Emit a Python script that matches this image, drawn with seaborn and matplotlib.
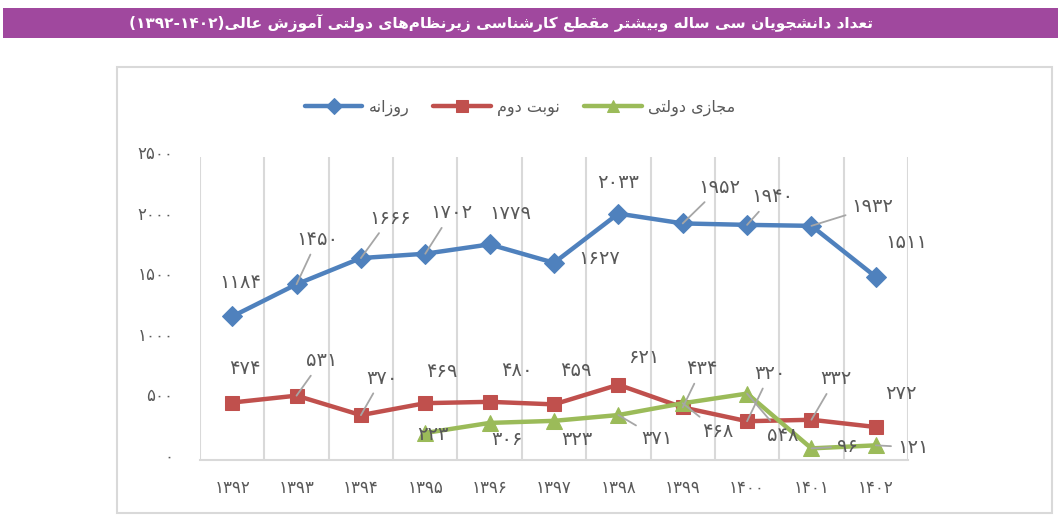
import numpy as np
import pandas as pd
import matplotlib
matplotlib.use("Agg")
import matplotlib.pyplot as plt
import matplotlib.patheffects as pe
import seaborn as sns
from matplotlib.patches import Rectangle
from matplotlib.transforms import ScaledTranslation
from matplotlib import font_manager
from matplotlib.ft2font import FT2Font

# داده‌ها
years = [1392, 1393, 1394, 1395, 1396, 1397, 1398, 1399, 1400, 1401, 1402]
daily = [1184, 1450, 1666, 1702, 1779, 1627, 2033, 1952, 1940, 1932, 1511]
evening = [474, 531, 370, 469, 480, 459, 621, 434, 320, 332, 272]
virtual = [np.nan, np.nan, np.nan, 223, 306, 323, 371, 468, 548, 96, 121]
series_names = ["روزانه", "نوبت دوم", "مجازی دولتی"]
title_text = "تعداد دانشجویان سی ساله وبیشتر مقطع کارشناسی زیرنظام\u200cهای دولتی آموزش عالی"
title_years = "(۱۳۹۲-۱۴۰۲)"
yticks = [0, 500, 1000, 1500, 2000, 2500]

# جای برچسب‌ها (پیکسل نسبت به نقطه) و خط راهنما
daily_offs = [(8, 34, 0), (21, 45, 1), (29, 40, 1), (26, 41, 1), (21, 31, 0), (45, 4, 0),
              (0, 31, 0), (37, 36, 1), (25, 28, 1), (61, 19, 1), (30, 34, 0)]
evening_offs = [(13, 34, 0), (25, 35, 1), (21, 37, 1), (17, 32, 0), (27, 31, 0), (22, 34, 0),
                (25, 27, 0), (19, 39, 1), (23, 48, 1), (24, 41, 1), (25, 34, 0)]
virtual_offs = [None, None, None, (8, -2, 0), (17, -17, 0), (23, -19, 0), (39, -23, 1),
                (35, -28, 1), (36, -42, 1), (36, 2, 1), (37, -2, 1)]

sns.set_style("white")
plt.rcParams["font.family"] = ["DejaVu Sans"]

# شکل‌دهی ساده حروف فارسی (matplotlib خودش این کار را نمی‌کند)
reg_cmap = FT2Font(font_manager.findfont(font_manager.FontProperties(family="DejaVu Sans"))).get_charmap()
bold_cmap = FT2Font(font_manager.findfont(font_manager.FontProperties(family="DejaVu Sans", weight="bold"))).get_charmap()

FORMS = {
    "ا": "\uFE8D\uFE8E", "آ": "\uFE81\uFE82", "د": "\uFEA9\uFEAA", "ر": "\uFEAD\uFEAE",
    "ز": "\uFEAF\uFEB0", "و": "\uFEED\uFEEE",
    "ب": "\uFE8F\uFE90\uFE91\uFE92", "ت": "\uFE95\uFE96\uFE97\uFE98", "ج": "\uFE9D\uFE9E\uFE9F\uFEA0",
    "س": "\uFEB1\uFEB2\uFEB3\uFEB4", "ش": "\uFEB5\uFEB6\uFEB7\uFEB8", "ط": "\uFEC1\uFEC2\uFEC3\uFEC4",
    "ظ": "\uFEC5\uFEC6\uFEC7\uFEC8", "ع": "\uFEC9\uFECA\uFECB\uFECC", "ق": "\uFED5\uFED6\uFED7\uFED8",
    "ل": "\uFEDD\uFEDE\uFEDF\uFEE0", "م": "\uFEE1\uFEE2\uFEE3\uFEE4", "ن": "\uFEE5\uFEE6\uFEE7\uFEE8",
    "ه": "\uFEE9\uFEEA\uFEEB\uFEEC",
}
if 0xFB8E in reg_cmap and 0xFBFC in reg_cmap:
    FORMS["ک"] = "\uFB8E\uFB8F\uFB90\uFB91"
    FORMS["ی"] = "\uFBFC\uFBFD\uFBFE\uFBFF"
else:
    FORMS["ک"] = "\uFED9\uFEDA\uFEDB\uFEDC"
    FORMS["ی"] = "\uFEEF\uFEF0\uFEF3\uFEF4"


def shape(text):
    out = []
    for i, c in enumerate(text):
        if c not in FORMS:
            if c != "\u200c":
                out.append(c)
            continue
        prev = text[i - 1] if i > 0 else ""
        nxt = text[i + 1] if i + 1 < len(text) else ""
        f = FORMS[c]
        jp = prev in FORMS and len(FORMS[prev]) == 4
        jn = len(f) == 4 and nxt in FORMS
        if jp and jn:
            out.append(f[3])
        elif jn:
            out.append(f[2])
        elif jp:
            out.append(f[1])
        else:
            out.append(f[0])
    return "".join(reversed(out))


def fa(n):
    return str(int(n)).translate(str.maketrans("0123456789", "۰۱۲۳۴۵۶۷۸۹"))


fig = plt.figure(figsize=(10.64, 5.2), dpi=100)
W, H = 1064, 520
fig.patches.append(Rectangle((3 / W, 1 - 38 / H), 1055 / W, 30 / H, transform=fig.transFigure,
                             facecolor="#A0489E", edgecolor="none"))
fig.patches.append(Rectangle((117 / W, 1 - 513 / H), 935 / W, 446 / H, transform=fig.transFigure,
                             facecolor="none", edgecolor="#D9D9D9", lw=1.5))

ax = fig.add_axes([200 / W, 60 / H, 708 / W, 303 / H])

df = pd.DataFrame({"pos": range(len(years)), "daily": daily, "evening": evening, "virtual": virtual})
styles = [("daily", "#4F81BD", "D", 10, daily_offs),
          ("evening", "#C0504D", "s", 10, evening_offs),
          ("virtual", "#9BBB59", "^", 11, virtual_offs)]

for (col, color, mk, ms, offs), name in zip(styles, series_names):
    d = df[["pos", col]].dropna()
    sns.lineplot(data=d, x="pos", y=col, color=color, marker=mk, markersize=ms, lw=3.2,
                 markeredgecolor=color, label=shape(name), ax=ax)
    for i, v in zip(d["pos"], d[col]):
        dx, dy, lead = offs[i]
        ax.annotate(fa(v), xy=(i, v), xytext=(dx, dy), textcoords="offset pixels",
                    ha="center", va="center", fontsize=14, color="#595959",
                    annotation_clip=False,
                    arrowprops=dict(arrowstyle="-", color="#A6A6A6", lw=1.3, shrinkA=2, shrinkB=0) if lead else None)

ax.set_xlim(-0.5, 10.5)
ax.set_ylim(0, 2500)
ax.set_xticks(range(len(years)))
ax.set_xticklabels([fa(y) for y in years])
ax.set_yticks(yticks)
ax.set_yticklabels([fa(y) for y in yticks])
ax.set_xticks(np.arange(-0.5, 11, 1), minor=True)
ax.tick_params(which="both", length=0, labelsize=12, colors="#595959")
ax.tick_params(axis="x", pad=14)
ax.tick_params(axis="y", pad=19)
for lbl in ax.get_yticklabels():
    lbl.set_transform(lbl.get_transform() + ScaledTranslation(0, 5 / 100, fig.dpi_scale_trans))
ax.grid(False)
ax.grid(True, which="minor", axis="x", color="#D9D9D9", lw=1.5)
ax.set_xlabel("")
ax.set_ylabel("")
for s in ["top", "right", "left"]:
    ax.spines[s].set_visible(False)
ax.spines["bottom"].set_color("#D9D9D9")
ax.spines["bottom"].set_linewidth(1.5)

ax.legend(loc="center", bbox_to_anchor=(520 / W, 1 - 108 / H), bbox_transform=fig.transFigure,
          ncol=3, frameon=False, fontsize=11.5, handlelength=3.6, handletextpad=0.4,
          columnspacing=1.5, labelcolor="#595959", markerscale=0.8)

weight = "bold" if 0xFEB3 in bold_cmap else "normal"
t = fig.text(873 / W, 1 - 23 / H, title_years + shape(title_text), ha="right", va="center",
             color="white", fontsize=14, fontweight=weight)
if weight == "normal":
    t.set_path_effects([pe.withStroke(linewidth=1.0, foreground="white")])
fig.canvas.draw()
w = t.get_window_extent().width
t.set_fontsize(14 * 748 / w)

fig.savefig("out.png", dpi=100)
